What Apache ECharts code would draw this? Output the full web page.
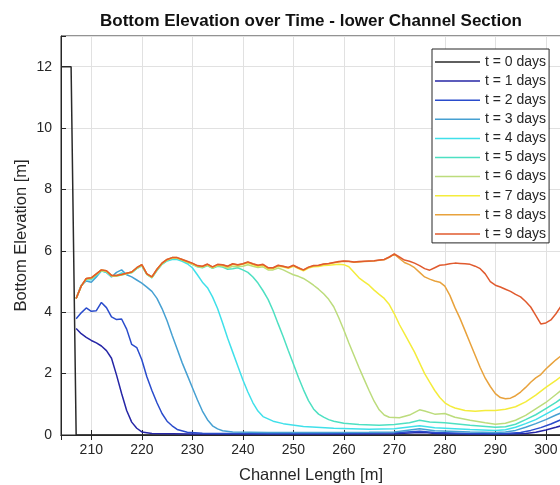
<!DOCTYPE html>
<html>
<head>
<meta charset="utf-8">
<title>Bottom Elevation over Time</title>
<script src="https://cdn.jsdelivr.net/npm/echarts@6/dist/echarts.min.js"></script>
<style>
  html, body { margin: 0; padding: 0; background: #fff; }
  #container { width: 560px; height: 485px; }
</style>
</head>
<body>
<div id="container"></div>
<script>
// channel position [m] / bottom elevation [m], one list per day
var day0 = [[204, 12], [206, 12], [207, 0], [303, 0]];

var day1 = [[207, 3.47], [208, 3.3], [209, 3.18], [210, 3.08], [211, 3.0], [212, 2.9], [213, 2.75],
  [214, 2.5], [215, 1.95], [216, 1.35], [217, 0.8], [218, 0.42], [219, 0.22], [220, 0.1], [222, 0.05],
  [230, 0.03], [240, 0.03], [260, 0.03], [270, 0.04], [274, 0.07], [276, 0.08], [278, 0.05], [285, 0.03],
  [292, 0.03], [296, 0.05], [298, 0.09], [300, 0.16], [302, 0.25], [303, 0.3]];

var day2 = [[207, 3.79], [208, 3.98], [209, 4.14], [210, 4.03], [211, 4.05], [212, 4.32], [213, 4.15],
  [214, 3.85], [215, 3.76], [216, 3.78], [217, 3.45], [218, 2.95], [219, 2.85], [220, 2.45], [221, 1.9],
  [222, 1.45], [223, 1.05], [224, 0.7], [225, 0.45], [226, 0.3], [227, 0.18], [229, 0.09], [232, 0.06],
  [245, 0.05], [260, 0.06], [270, 0.07], [275, 0.12], [278, 0.08], [285, 0.05], [292, 0.05], [295, 0.08],
  [297, 0.15], [299, 0.24], [301, 0.36], [303, 0.5]];

var day3 = [[207, 4.45], [208, 4.88], [209, 5.02], [210, 4.98], [211, 5.15], [212, 5.35], [213, 5.3],
  [214, 5.15], [215, 5.3], [216, 5.38], [217, 5.22], [218, 5.15], [219, 5.05], [220, 4.95], [221, 4.82],
  [222, 4.68], [223, 4.45], [224, 4.12], [225, 3.72], [226, 3.25], [227, 2.8], [228, 2.35], [229, 1.95],
  [230, 1.55], [231, 1.15], [232, 0.78], [233, 0.5], [234, 0.3], [235, 0.2], [236, 0.14], [238, 0.1],
  [245, 0.08], [255, 0.08], [265, 0.09], [270, 0.1], [275, 0.2], [278, 0.14], [285, 0.1], [290, 0.08],
  [292, 0.1], [294, 0.15], [296, 0.25], [298, 0.37], [300, 0.5], [302, 0.65], [303, 0.72]];

var day4 = [[207, 4.45], [208, 4.86], [209, 5.06], [210, 5.06], [211, 5.2], [212, 5.34], [213, 5.3],
  [214, 5.17], [215, 5.19], [216, 5.28], [217, 5.25], [218, 5.29], [219, 5.42], [220, 5.51], [221, 5.23],
  [222, 5.12], [223, 5.36], [224, 5.56], [225, 5.67], [226, 5.72], [227, 5.72], [228, 5.66], [229, 5.58],
  [230, 5.45], [231, 5.22], [232, 4.98], [233, 4.8], [234, 4.5], [235, 4.12], [236, 3.65], [237, 3.15],
  [238, 2.7], [239, 2.25], [240, 1.8], [241, 1.4], [242, 1.05], [243, 0.78], [244, 0.6], [246, 0.45],
  [248, 0.37], [252, 0.28], [258, 0.22], [265, 0.19], [270, 0.2], [275, 0.3], [278, 0.24], [285, 0.18],
  [290, 0.15], [292, 0.17], [294, 0.25], [296, 0.37], [298, 0.5], [300, 0.68], [302, 0.86], [303, 0.95]];

var day5 = [[207, 4.45], [208, 4.85], [209, 5.07], [210, 5.09], [211, 5.22], [212, 5.35], [213, 5.32],
  [214, 5.18], [215, 5.18], [216, 5.21], [217, 5.25], [218, 5.29], [219, 5.43], [220, 5.52], [221, 5.23],
  [222, 5.13], [223, 5.37], [224, 5.57], [225, 5.69], [226, 5.75], [227, 5.75], [228, 5.69], [229, 5.62],
  [230, 5.56], [231, 5.48], [232, 5.45], [233, 5.52], [234, 5.43], [235, 5.5], [236, 5.47], [237, 5.4],
  [238, 5.42], [239, 5.45], [240, 5.38], [241, 5.3], [242, 5.15], [243, 4.95], [244, 4.7], [245, 4.42],
  [246, 4.05], [247, 3.62], [248, 3.2], [249, 2.75], [250, 2.32], [251, 1.88], [252, 1.48], [253, 1.12],
  [254, 0.85], [255, 0.68], [256, 0.58], [257, 0.5], [258, 0.45], [260, 0.38], [263, 0.34], [267, 0.32],
  [270, 0.34], [273, 0.4], [275, 0.48], [277, 0.42], [280, 0.4], [285, 0.32], [290, 0.25], [292, 0.27],
  [294, 0.35], [296, 0.5], [298, 0.66], [300, 0.86], [302, 1.06], [303, 1.18]];

var day6 = [[207, 4.45], [208, 4.85], [209, 5.08], [210, 5.1], [211, 5.23], [212, 5.36], [213, 5.33],
  [214, 5.19], [215, 5.19], [216, 5.22], [217, 5.26], [218, 5.3], [219, 5.44], [220, 5.53], [221, 5.24],
  [222, 5.14], [223, 5.38], [224, 5.58], [225, 5.7], [226, 5.76], [227, 5.76], [228, 5.7], [229, 5.63],
  [230, 5.57], [231, 5.49], [232, 5.47], [233, 5.53], [234, 5.44], [235, 5.52], [236, 5.5], [237, 5.44],
  [238, 5.5], [239, 5.48], [240, 5.5], [241, 5.55], [242, 5.5], [243, 5.46], [244, 5.48], [245, 5.38],
  [246, 5.38], [247, 5.44], [248, 5.38], [249, 5.3], [250, 5.22], [251, 5.17], [252, 5.1], [253, 5.0],
  [254, 4.88], [255, 4.75], [256, 4.6], [257, 4.42], [258, 4.18], [259, 3.82], [260, 3.42], [261, 3.0],
  [262, 2.6], [263, 2.2], [264, 1.82], [265, 1.45], [266, 1.1], [267, 0.82], [268, 0.65], [269, 0.58],
  [271, 0.56], [273, 0.65], [275, 0.82], [276, 0.78], [278, 0.68], [280, 0.7], [282, 0.58], [285, 0.48],
  [288, 0.4], [290, 0.35], [292, 0.38], [294, 0.48], [296, 0.64], [298, 0.85], [300, 1.06], [302, 1.32],
  [303, 1.45]];

var day7 = [[207, 4.45], [208, 4.85], [209, 5.09], [210, 5.11], [211, 5.24], [212, 5.37], [213, 5.34],
  [214, 5.19], [215, 5.19], [216, 5.22], [217, 5.26], [218, 5.3], [219, 5.44], [220, 5.54], [221, 5.24],
  [222, 5.14], [223, 5.39], [224, 5.59], [225, 5.71], [226, 5.77], [227, 5.77], [228, 5.71], [229, 5.64],
  [230, 5.58], [231, 5.5], [232, 5.48], [233, 5.55], [234, 5.46], [235, 5.54], [236, 5.53], [237, 5.48],
  [238, 5.56], [239, 5.53], [240, 5.56], [241, 5.61], [242, 5.55], [243, 5.5], [244, 5.53], [245, 5.42],
  [246, 5.42], [247, 5.5], [248, 5.47], [249, 5.43], [250, 5.5], [251, 5.42], [252, 5.35], [253, 5.44],
  [254, 5.48], [255, 5.49], [256, 5.52], [257, 5.53], [258, 5.55], [259, 5.56], [260, 5.55], [261, 5.48],
  [262, 5.3], [263, 5.12], [264, 5.0], [265, 4.88], [266, 4.72], [267, 4.58], [268, 4.45], [269, 4.25],
  [270, 3.95], [271, 3.6], [272, 3.3], [273, 3.0], [274, 2.7], [275, 2.35], [276, 2.0], [277, 1.72],
  [278, 1.45], [279, 1.22], [280, 1.05], [281, 0.95], [282, 0.88], [284, 0.8], [286, 0.77], [288, 0.8],
  [290, 0.8], [292, 0.84], [294, 0.92], [296, 1.08], [298, 1.3], [300, 1.55], [302, 1.78], [303, 1.9]];

var day8 = [[207, 4.45], [208, 4.85], [209, 5.1], [210, 5.12], [211, 5.25], [212, 5.38], [213, 5.35],
  [214, 5.2], [215, 5.2], [216, 5.23], [217, 5.27], [218, 5.31], [219, 5.45], [220, 5.55], [221, 5.25],
  [222, 5.15], [223, 5.4], [224, 5.6], [225, 5.72], [226, 5.78], [227, 5.78], [228, 5.72], [229, 5.65],
  [230, 5.59], [231, 5.51], [232, 5.49], [233, 5.56], [234, 5.47], [235, 5.55], [236, 5.54], [237, 5.49],
  [238, 5.57], [239, 5.54], [240, 5.57], [241, 5.63], [242, 5.57], [243, 5.52], [244, 5.55], [245, 5.44],
  [246, 5.44], [247, 5.52], [248, 5.49], [249, 5.45], [250, 5.52], [251, 5.44], [252, 5.37], [253, 5.46],
  [254, 5.51], [255, 5.52], [256, 5.56], [257, 5.58], [258, 5.61], [259, 5.64], [260, 5.66], [261, 5.65],
  [262, 5.63], [263, 5.64], [264, 5.65], [265, 5.66], [266, 5.67], [267, 5.69], [268, 5.71], [269, 5.79],
  [270, 5.89], [271, 5.75], [272, 5.62], [273, 5.55], [274, 5.45], [275, 5.3], [276, 5.15], [277, 5.08],
  [278, 5.02], [279, 4.98], [280, 4.85], [281, 4.55], [282, 4.15], [283, 3.8], [284, 3.4], [285, 3.0],
  [286, 2.6], [287, 2.2], [288, 1.85], [289, 1.58], [290, 1.35], [291, 1.22], [292, 1.18], [293, 1.2],
  [294, 1.28], [295, 1.4], [296, 1.55], [297, 1.72], [298, 1.86], [299, 1.97], [300, 2.15], [301, 2.3],
  [302, 2.45], [303, 2.58]];

var day9 = [[207, 4.45], [208, 4.85], [209, 5.1], [210, 5.12], [211, 5.25], [212, 5.38], [213, 5.35],
  [214, 5.2], [215, 5.2], [216, 5.23], [217, 5.27], [218, 5.31], [219, 5.45], [220, 5.55], [221, 5.25],
  [222, 5.15], [223, 5.4], [224, 5.6], [225, 5.72], [226, 5.78], [227, 5.78], [228, 5.72], [229, 5.66],
  [230, 5.6], [231, 5.52], [232, 5.5], [233, 5.57], [234, 5.48], [235, 5.56], [236, 5.55], [237, 5.5],
  [238, 5.58], [239, 5.55], [240, 5.58], [241, 5.64], [242, 5.58], [243, 5.53], [244, 5.56], [245, 5.45],
  [246, 5.45], [247, 5.53], [248, 5.5], [249, 5.46], [250, 5.53], [251, 5.45], [252, 5.38], [253, 5.47],
  [254, 5.52], [255, 5.53], [256, 5.57], [257, 5.59], [258, 5.62], [259, 5.65], [260, 5.67], [261, 5.66],
  [262, 5.64], [263, 5.65], [264, 5.66], [265, 5.67], [266, 5.68], [267, 5.7], [268, 5.72], [269, 5.8],
  [270, 5.9], [271, 5.8], [272, 5.7], [273, 5.66], [274, 5.6], [275, 5.52], [276, 5.42], [277, 5.37],
  [278, 5.45], [279, 5.53], [280, 5.55], [281, 5.58], [282, 5.6], [283, 5.59], [284, 5.58], [285, 5.56],
  [286, 5.5], [287, 5.42], [288, 5.25], [289, 5.0], [290, 4.88], [291, 4.82], [292, 4.75], [293, 4.68],
  [294, 4.58], [295, 4.5], [296, 4.35], [297, 4.17], [298, 3.9], [299, 3.62], [300, 3.65], [301, 3.75],
  [302, 3.95], [303, 4.2]];

var seriesNames = ['t = 0 days', 't = 1 days', 't = 2 days', 't = 3 days', 't = 4 days',
  't = 5 days', 't = 6 days', 't = 7 days', 't = 8 days', 't = 9 days'];
var lineColors = ['#2a2a2a', '#2626a6', '#2a4ccc', '#46a0d2', '#40e0ea',
  '#4ee0c2', '#bcdc7c', '#f4ec3c', '#e8a23c', '#e05a2e'];
var allDays = [day0, day1, day2, day3, day4, day5, day6, day7, day8, day9];

var xMin = 204, xMax = 303;
var yTicks = [0, 2, 4, 6, 8, 10, 12];

var dom = document.getElementById('container');
var myChart = echarts.init(dom, null, { renderer: 'canvas' });

var textColor = '#262626';
var fontName = '"Liberation Sans", Arial, Helvetica, sans-serif';

var series = [];
for (var i = 0; i < allDays.length; i++) {
  series.push({
    name: seriesNames[i],
    type: 'line',
    data: allDays[i],
    symbol: 'none',
    smooth: false,
    lineStyle: { width: 1.5, color: lineColors[i] },
    itemStyle: { color: lineColors[i] }
  });
}

var option = {
  animation: false,
  backgroundColor: '#fff',
  textStyle: { fontFamily: fontName, color: textColor },
  title: {
    text: 'Bottom Elevation over Time - lower Channel Section',
    left: 311,
    top: 13,
    padding: 0,
    textAlign: 'center',
    textStyle: { fontFamily: fontName, fontSize: 17, fontWeight: 'bold', color: '#111' }
  },
  legend: {
    orient: 'vertical',
    left: 432,
    top: 49,
    padding: [6, 3, 2, 3],
    icon: 'rect',
    itemWidth: 45,
    itemHeight: 1.5,
    itemGap: 5.1,
    backgroundColor: '#fff',
    borderColor: textColor,
    borderWidth: 1,
    textStyle: { fontFamily: fontName, fontSize: 14, lineHeight: 14, color: textColor },
    data: seriesNames
  },
  grid: {
    left: 61, top: 36, right: -1, bottom: 50,
    outerBoundsMode: 'none',
    containLabel: false,
    show: true, borderColor: textColor, borderWidth: 1, backgroundColor: '#fff'
  },
  xAxis: [{
    type: 'value',
    min: xMin,
    max: xMax,
    splitNumber: 10,
    name: 'Channel Length [m]',
    nameLocation: 'middle',
    nameGap: 32,
    nameMoveOverlap: false,
    nameTextStyle: { fontFamily: fontName, fontSize: 16.5, color: textColor },
    axisLine: { show: true, onZero: false, lineStyle: { color: textColor, width: 1 } },
    axisTick: { show: true, inside: true, length: 5, lineStyle: { color: textColor } },
    axisLabel: {
      margin: 8, fontSize: 14, color: textColor, fontFamily: fontName,
      formatter: function (v) { return v % 10 === 0 ? String(v) : ''; }
    },
    splitLine: { show: true, lineStyle: { color: '#e1e1e1', width: 1 } }
  }, {
    type: 'value',
    position: 'top',
    min: xMin,
    max: xMax,
    splitNumber: 10,
    axisLine: { show: true, lineStyle: { color: textColor, width: 1 } },
    axisTick: { show: true, inside: true, length: 5, lineStyle: { color: textColor } },
    axisLabel: { show: false },
    splitLine: { show: false }
  }],
  yAxis: {
    type: 'value',
    min: 0,
    max: 13,
    interval: 2,
    name: 'Bottom Elevation [m]',
    nameLocation: 'middle',
    nameGap: 31,
    nameMoveOverlap: false,
    nameRotate: 90,
    nameTextStyle: { fontFamily: fontName, fontSize: 16.5, color: textColor },
    axisLine: { show: true, lineStyle: { color: textColor, width: 1 } },
    axisTick: { show: true, inside: true, length: 5, lineStyle: { color: textColor } },
    axisLabel: {
      margin: 9, fontSize: 14, color: textColor, fontFamily: fontName,
      formatter: function (v) { return yTicks.indexOf(v) >= 0 ? String(v) : ''; }
    },
    splitLine: { show: true, lineStyle: { color: '#e1e1e1', width: 1 } }
  },
  series: series
};

myChart.setOption(option);
</script>
</body>
</html>
